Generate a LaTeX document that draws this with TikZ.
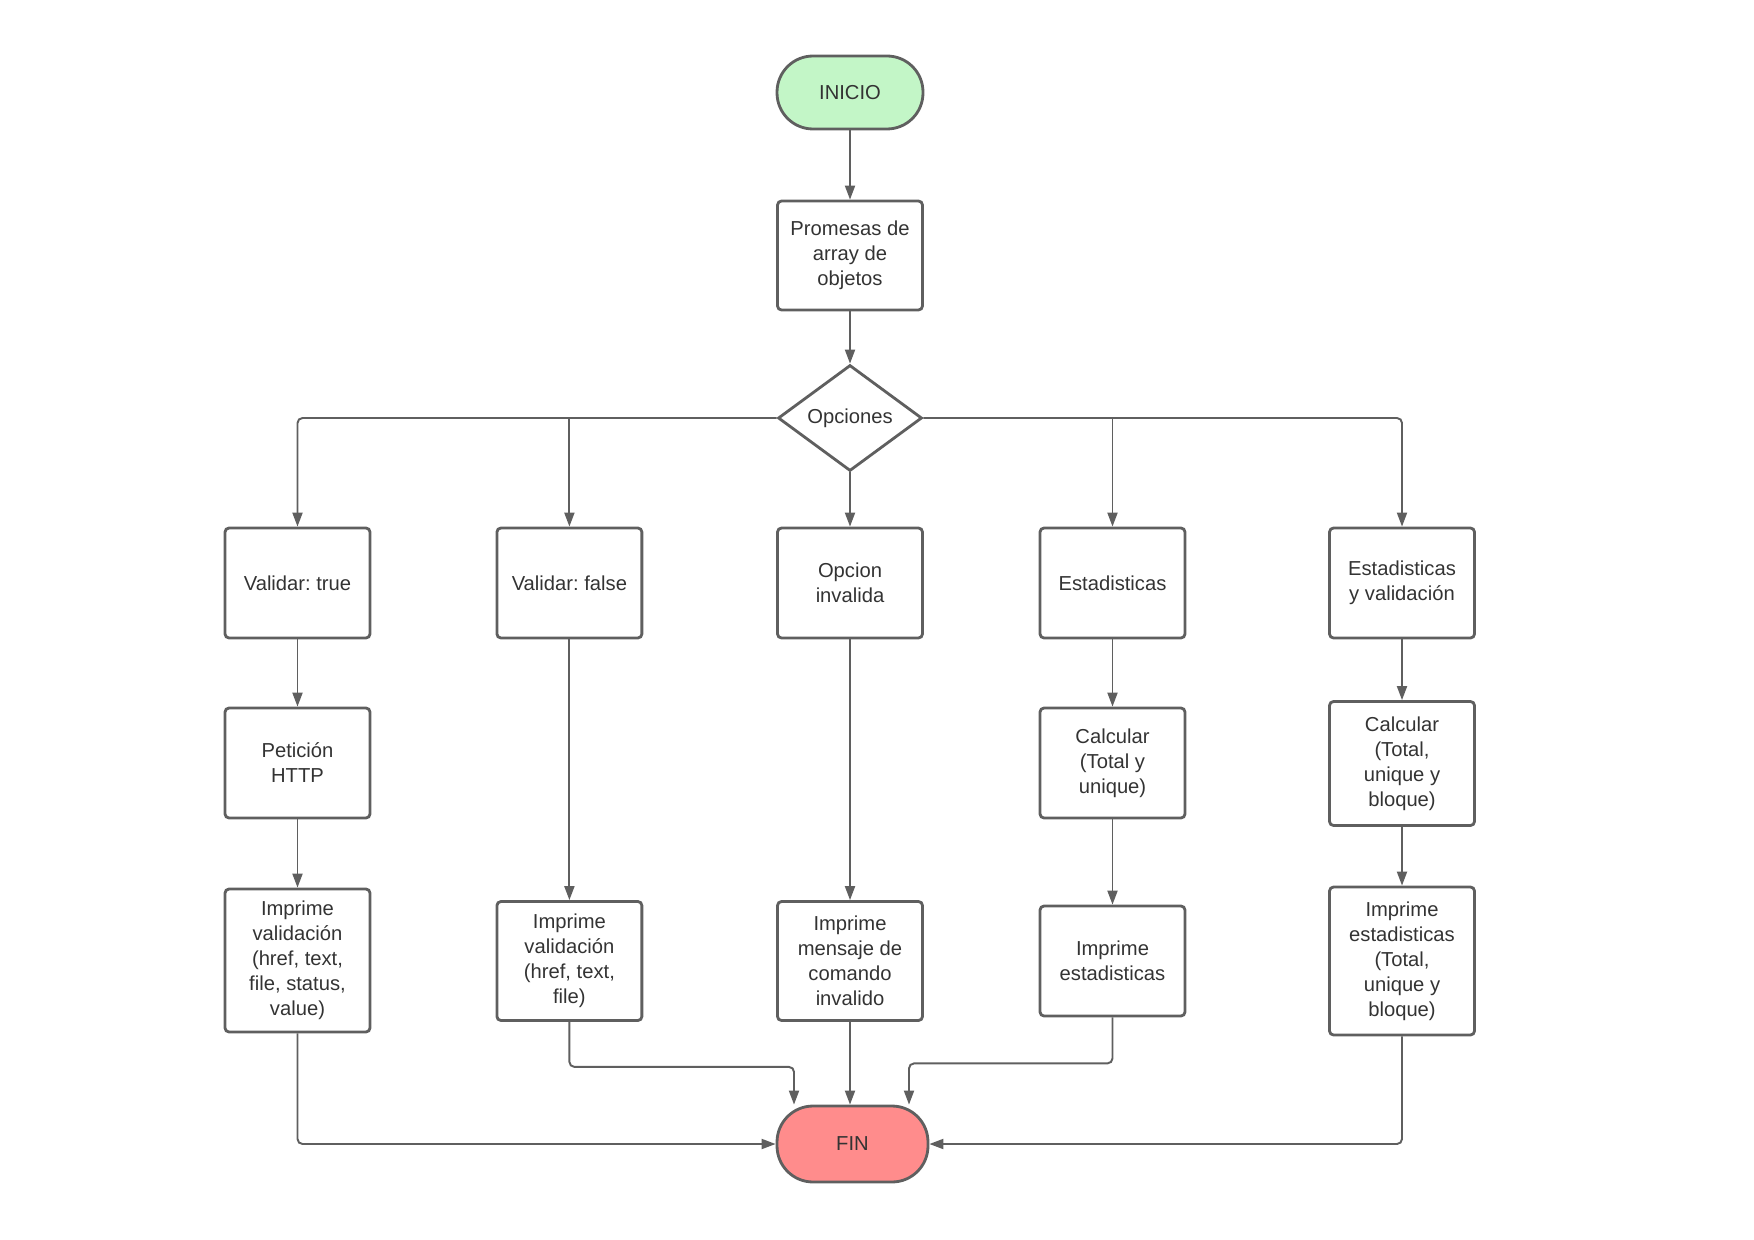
\documentclass[tikz,border=0pt]{standalone}
\usepackage{fontspec}
\setmainfont{Liberation Sans}
\usetikzlibrary{arrows.meta,shapes.geometric,calc}
\frenchspacing

\definecolor{linegray}{HTML}{5F5F5F}
\definecolor{textgray}{HTML}{333333}
\definecolor{startgreen}{HTML}{C3F6C7}
\definecolor{endred}{HTML}{FF8C8C}

\begin{document}
\begin{tikzpicture}[x=0.02cm, y=-0.02cm, >={Triangle[length=0.28cm,width=0.2cm]},
    box/.style={draw=linegray, line width=1.6pt, rounded corners=0.08cm, minimum width=2.9cm, minimum height=2.2cm, align=center, text=textgray, font=\fontsize{11.5}{14.2}\selectfont, inner sep=2pt},
    terminal/.style={box, rounded corners=0.72cm},
    choice/.style={diamond, draw=linegray, line width=1.6pt, fill=white, minimum width=2.88cm, minimum height=2.12cm, inner sep=0pt, text=textgray, font=\fontsize{11.5}{14.2}\selectfont},
    arr/.style={->, draw=linegray, line width=1.1pt, rounded corners=0.1cm}]

      \useasboundingbox (0,0) rectangle (1754,1240);

      \node[terminal, fill=startgreen, minimum width=2.92cm, minimum height=1.46cm] (inicio) at (850,92.5) {INICIO};
      \node[box, minimum height=2.18cm] (promesas) at (850,255.5) {Promesas de\\array de\\objetos};
      \node[choice] (opciones) at (850,418) {Opciones};

      \node[box] (valtrue) at (297.5,583) {Validar: true};
      \node[box] (valfalse) at (569.4,583) {Validar: false};
      \node[box] (invalida) at (850,583) {Opcion\\invalida};
      \node[box] (stats) at (1112.5,583) {Estadisticas};
      \node[box] (statsval) at (1402,583) {Estadisticas\\y validación};

      \node[box] (peticion) at (297.5,763) {Petición\\HTTP};
      \node[box] (calc) at (1112.5,763) {Calcular\\(Total y\\unique)};
      \node[box, minimum height=2.48cm] (calcbloque) at (1402,763.5) {Calcular\\(Total,\\unique y\\bloque)};

      \node[box, minimum height=2.86cm] (impval) at (297.5,960.5) {Imprime\\validación\\(href, text,\\file, status,\\value)};
      \node[box, minimum height=2.38cm] (impfile) at (569.4,961) {Imprime\\validación\\(href, text,\\file)};
      \node[box, minimum height=2.38cm] (impmsg) at (850,961) {Imprime\\mensaje de\\comando\\invalido};
      \node[box] (impstats) at (1112.5,961) {Imprime\\estadisticas};
      \node[box, minimum height=2.96cm] (impbloque) at (1402,961) {Imprime\\estadisticas\\(Total,\\unique y\\bloque)};

      \node[terminal, fill=endred, minimum width=3.02cm, minimum height=1.52cm] (fin) at (852.5,1144) {FIN};

      % top
      \draw[arr] (inicio) -- (promesas);
      \draw[arr] (promesas) -- (opciones);
      \draw[arr] (opciones.west) -| (valtrue.north);
      \draw[arr] (valfalse.north |- opciones.west) -- (valfalse.north);
      \draw[arr] (opciones.south) -- (invalida.north);
      \draw[arr] (opciones.east) -| (statsval.north);
      \draw[arr] (stats.north |- opciones.east) -- (stats.north);

      % columns
      \draw[arr] (valtrue) -- (peticion);
      \draw[arr] (peticion) -- (impval);
      \draw[arr] (valfalse) -- (impfile);
      \draw[arr] (invalida) -- (impmsg);
      \draw[arr] (stats) -- (calc);
      \draw[arr] (calc) -- (impstats);
      \draw[arr] (statsval) -- (calcbloque);
      \draw[arr] (calcbloque) -- (impbloque);

      % bottom
      \draw[arr] (impval.south) |- (fin.west);
      \draw[arr] (impfile.south) -- ++(0,45) -| ($(fin.north)+(-58.5,0)$);
      \draw[arr] (impmsg.south) -- (impmsg.south |- fin.north);
      \draw[arr] (impstats.south) -- ++(0,46) -| ($(fin.north)+(56.5,0)$);
      \draw[arr] (impbloque.south) |- (fin.east);
    \end{tikzpicture}
\end{document}
